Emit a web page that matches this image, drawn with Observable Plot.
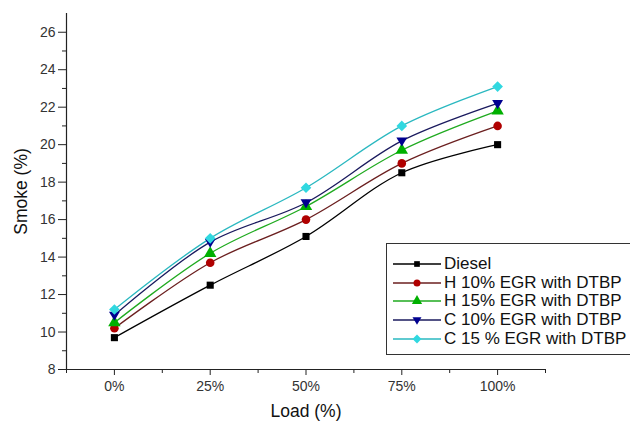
<!DOCTYPE html>
<html>
<head>
<meta charset="utf-8">
<script src="https://cdn.jsdelivr.net/npm/d3@7"></script>
<script src="https://cdn.jsdelivr.net/npm/@observablehq/plot@0.6"></script>
<style>
  html, body { margin: 0; padding: 0; background: #fff; }
  #wrap { position: relative; width: 630px; height: 421px; overflow: hidden; font-family: "Liberation Sans", Arial, sans-serif; }
  #legend { position: absolute; left: 386px; top: 243px; width: 260px; height: 112px; border: 1px solid #333; background: #fff; box-sizing: border-box; }
  .row { position: absolute; left: 5px; height: 18px; display: flex; align-items: center; font-size: 17px; color: #111; white-space: nowrap; }
  .row svg { margin-right: 2px; }
  #chart svg text { font-family: "Liberation Sans", Arial, sans-serif !important; font-size: 14px !important; fill: #333; }
  #chart svg text.big { font-size: 17.5px !important; fill: #111; }
</style>
</head>
<body>
<div id="wrap"><div id="chart"></div><div id="legend"></div></div>
<script>
const loads = ["0%", "25%", "50%", "75%", "100%"];
const seriesNames = ["Diesel", "H 10% EGR with DTBP", "H 15% EGR with DTBP", "C 10% EGR with DTBP", "C 15 % EGR with DTBP"];
const diesel = [9.7, 12.5, 15.1, 18.5, 20.0];
const h10 = [10.2, 13.7, 16.0, 19.0, 21.0];
const h15 = [10.5, 14.2, 16.7, 19.7, 21.8];
const c10 = [10.9, 14.8, 16.9, 20.2, 22.2];
const c15 = [11.2, 15.0, 17.7, 21.0, 23.1];
const yTicks = [8, 10, 12, 14, 16, 18, 20, 22, 24, 26];

const lineColors = ["#000000", "#6b1f1f", "#1faa1f", "#1a1a5e", "#2ab8c0"];
const markColors = ["#000000", "#b00000", "#00b000", "#000090", "#30d8e0"];

const triDown = {
  draw(ctx, size) {
    const r = Math.sqrt(size) * 0.7;
    ctx.moveTo(0, r);
    ctx.lineTo(-r * 0.95, -r * 0.6);
    ctx.lineTo(r * 0.95, -r * 0.6);
    ctx.closePath();
  }
};
const symbols = ["square", "circle", "triangle", triDown, "diamond2"];
const sizes = [4, 4.3, 4.6, 4.6, 4.8];

const allSeries = [diesel, h10, h15, c10, c15];
const data = [];
allSeries.forEach((vals, si) => {
  vals.forEach((v, i) => data.push({ s: si, x: i, y: v }));
});

const marks = [];
marks.push(Plot.ruleX([-0.5], { y1: 8, y2: 27, stroke: "#222", strokeWidth: 1.2 }));
marks.push(Plot.ruleY([8], { x1: -0.5, x2: 4.5, stroke: "#222", strokeWidth: 1.2 }));
marks.push(Plot.axisY({ ticks: yTicks, tickSize: 8, tickPadding: 3, fontSize: 14, label: "Smoke (%)", labelAnchor: "center", labelOffset: 52, labelArrow: "none", stroke: "#222", fill: "#333" }));
marks.push(Plot.axisY({ ticks: d3.range(9, 27, 2), tickSize: 4, tickFormat: () => "", label: null, stroke: "#222" }));
marks.push(Plot.axisX({ ticks: [0, 1, 2, 3, 4], tickSize: 6, tickPadding: 6, fontSize: 14, tickFormat: (d) => loads[d], label: "Load (%)", labelAnchor: "center", labelOffset: 47, labelArrow: "none", stroke: "#222", fill: "#333" }));
marks.push(Plot.axisX({ ticks: [-0.5, 0.5, 1.5, 2.5, 3.5, 4.5], tickSize: 4, tickFormat: () => "", label: null, stroke: "#222" }));

allSeries.forEach((vals, si) => {
  const d = data.filter((r) => r.s === si);
  marks.push(Plot.line(d, { x: "x", y: "y", curve: "catmull-rom", stroke: lineColors[si], strokeWidth: 1.3 }));
});
allSeries.forEach((vals, si) => {
  const d = data.filter((r) => r.s === si);
  marks.push(Plot.dot(d, { x: "x", y: "y", symbol: () => symbols[si], r: sizes[si], fill: markColors[si], stroke: "none" }));
});

const chart = Plot.plot({
  width: 630,
  height: 421,
  marginLeft: 66,
  marginRight: 85,
  marginTop: 13,
  marginBottom: 52,
  style: { fontFamily: "'Liberation Sans', Arial, sans-serif", fontSize: "14px", background: "#fff", overflow: "visible" },
  x: { type: "linear", domain: [-0.5, 4.5] },
  y: { type: "linear", domain: [8, 27] },
  symbol: { type: "identity" },
  marks
});
document.getElementById("chart").appendChild(chart);
d3.select(chart).selectAll("text").each(function () {
  const s = this.textContent;
  if (s === "Smoke (%)" || s === "Load (%)") this.classList.add("big");
});

const legend = document.getElementById("legend");
const rowTops = [11, 30, 48, 67, 86];
seriesNames.forEach((name, si) => {
  const row = document.createElement("div");
  row.className = "row";
  row.style.top = rowTops[si] + "px";
  const svg = d3.create("svg").attr("width", 50).attr("height", 18);
  svg.append("line").attr("x1", 1).attr("x2", 49).attr("y1", 9).attr("y2", 9).attr("stroke", lineColors[si]).attr("stroke-width", 1.3);
  const sym = typeof symbols[si] === "string" ? {square: d3.symbolSquare, circle: d3.symbolCircle, triangle: d3.symbolTriangle, diamond2: d3.symbolDiamond2}[symbols[si]] : symbols[si];
  const rr = sizes[si] - 0.8;
  svg.append("path").attr("transform", "translate(25,9)").attr("d", d3.symbol(sym, rr * rr * Math.PI)()).attr("fill", markColors[si]);
  row.appendChild(svg.node());
  const t = document.createElement("span");
  t.textContent = name;
  row.appendChild(t);
  legend.appendChild(row);
});
</script>
</body>
</html>
